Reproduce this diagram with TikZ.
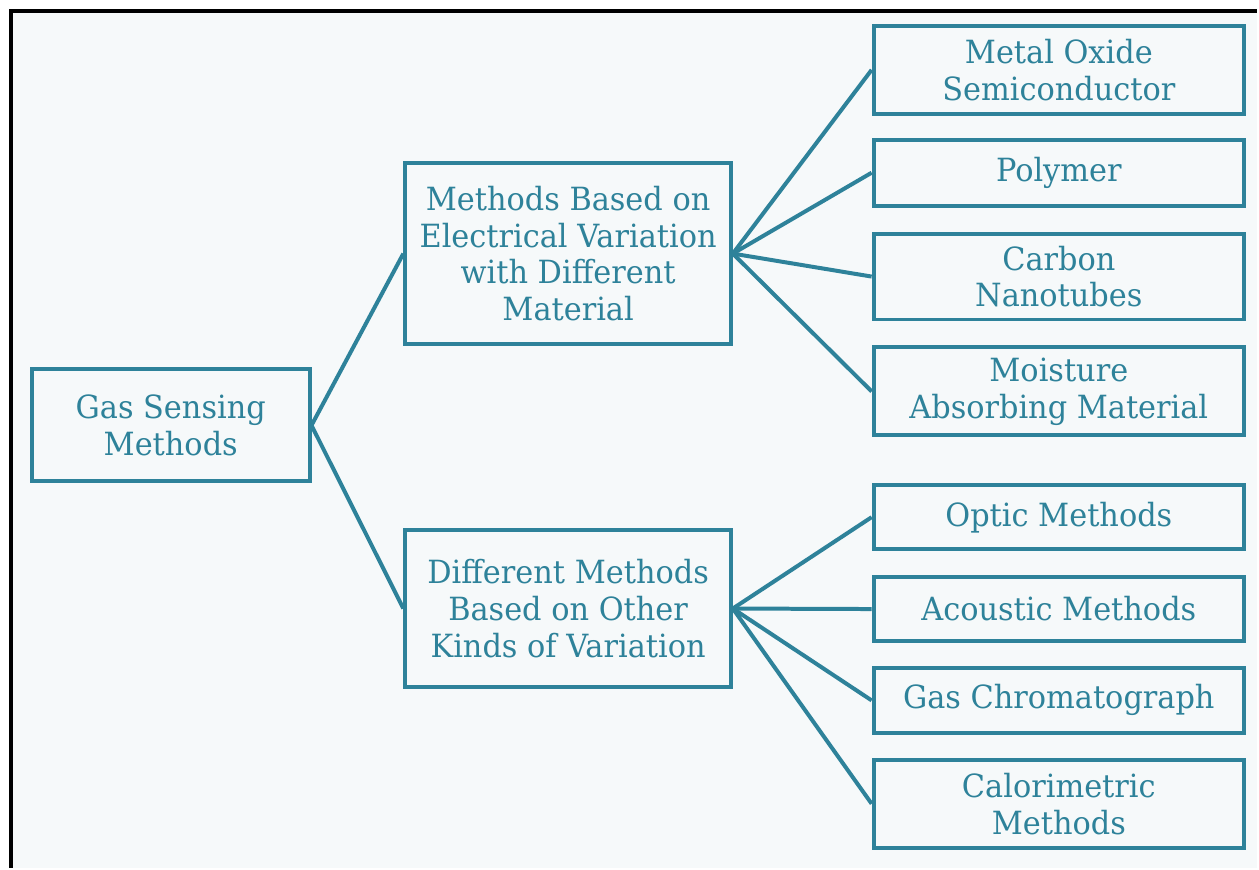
\documentclass[tikz,border=0pt]{standalone}
\usepackage{fontspec}
\setmainfont{DejaVu Serif}[FakeStretch=0.95]
\definecolor{teal1}{HTML}{2E829A}
\definecolor{bgc}{HTML}{F6F9FA}
\begin{document}
\begin{tikzpicture}[x=1pt,y=-1pt,
  box/.style={draw=teal1, line width=4pt, inner sep=0pt, align=center,
    text=teal1, font=\fontsize{32}{37}\selectfont},
  conn/.style={draw=teal1, line width=4pt}]
\fill[white] (0,0) rectangle (1259,869);
\fill[bgc] (11.5,11.5) rectangle (1259,869);
\draw[black, line width=4pt] (11.5,869) -- (11.5,11.5) -- (1259,11.5);
\useasboundingbox (0,0) rectangle (1259,869);
% root and middle
\node[box, minimum width=278pt, minimum height=112pt] (root) at (171,426) {Gas Sensing\\Methods};
\node[box, minimum width=326pt, minimum height=182pt] (m1) at (569,254) {Methods Based on\\Electrical Variation\\with Different\\Material};
\node[box, minimum width=326pt, minimum height=157pt] (m2) at (569,609.5) {Different Methods\\Based on Other\\Kinds of Variation};
% right column
\node[box, minimum width=371pt, minimum height=88pt] (r1) at (1060.5,70) {Metal Oxide\\Semiconductor};
\node[box, minimum width=371pt, minimum height=66pt] (r2) at (1060.5,173) {Polymer};
\node[box, minimum width=371pt, minimum height=86pt] (r3) at (1060.5,277) {Carbon\\Nanotubes};
\node[box, minimum width=371pt, minimum height=88pt] (r4) at (1060.5,392) {Moisture\\Absorbing Material};
\node[box, minimum width=371pt, minimum height=64pt] (r5) at (1060.5,518) {Optic Methods};
\node[box, minimum width=371pt, minimum height=64pt] (r6) at (1060.5,610) {Acoustic Methods};
\node[box, minimum width=371pt, minimum height=65pt] (r7) at (1060.5,701.5) {Gas Chromatograph};
\node[box, minimum width=371pt, minimum height=88pt] (r8) at (1060.5,805) {Calorimetric\\Methods};
% connectors
\draw[conn] (root.east) -- (m1.west);
\draw[conn] (root.east) -- (m2.west);
\foreach \r in {r1,r2,r3,r4} \draw[conn] (m1.east) -- (\r.west);
\foreach \r in {r5,r6,r7,r8} \draw[conn] (m2.east) -- (\r.west);
\end{tikzpicture}
\end{document}
